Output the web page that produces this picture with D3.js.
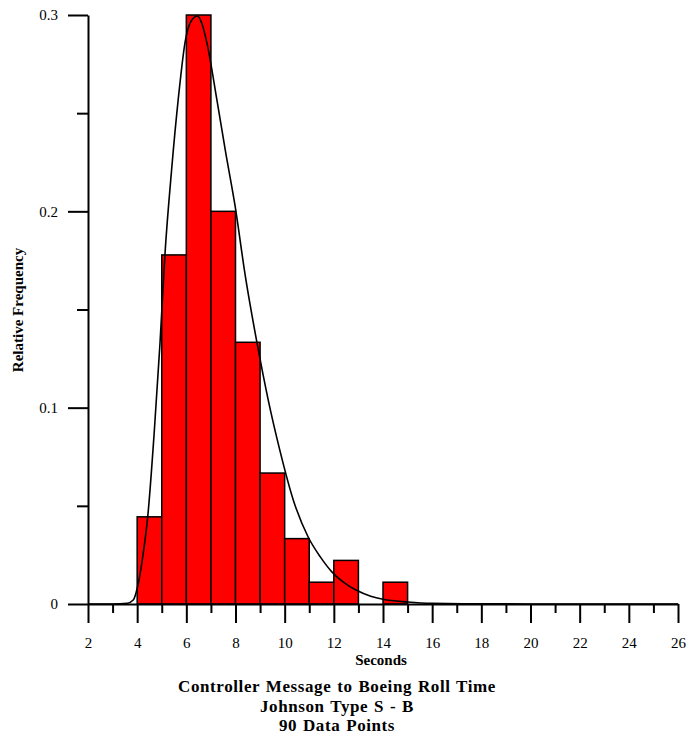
<!DOCTYPE html>
<html>
<head>
<meta charset="utf-8">
<title>Controller Message to Boeing Roll Time</title>
<script src="https://cdn.jsdelivr.net/npm/d3@7"></script>
<style>
  body { margin: 0; background: #fff; }
  svg text { font-family: "Liberation Serif", "Times New Roman", serif; fill: #000; }
  .axis path, .axis line { stroke: #000; stroke-width: 2px; }
  .axis text { font-size: 15px; }
  .bar { fill: #ff0000; stroke: #000; stroke-width: 1.5px; }
  .fit { fill: none; stroke: #000; stroke-width: 1.6px; }
</style>
</head>
<body>
<div id="chart"></div>
<script>
// histogram bins (1 second wide) and relative frequencies, 90 points
var binStart = [4, 5, 6, 7, 8, 9, 10, 11, 12, 13, 14];
var relFreq = [0.0444, 0.1778, 0.3, 0.2, 0.1333, 0.0667, 0.0333, 0.0111, 0.0222, 0, 0.0111];

// fitted Johnson SB curve
var curveX = [2, 3, 3.6, 3.84, 4.05, 4.25, 4.43, 4.7, 4.93, 5.13, 5.4, 5.67, 5.96, 6.2, 6.45, 6.65, 6.85, 7.24, 7.6, 7.98, 8.4, 8.86, 9.33, 9.81, 10.35, 10.96, 11.45, 11.91, 12.4, 12.92, 13.5, 14, 15, 16, 18, 20, 26];
var curveY = [0, 0, 0.0004, 0.002, 0.0107, 0.026, 0.0445, 0.0886, 0.133, 0.178, 0.221, 0.257, 0.287, 0.297, 0.2995, 0.295, 0.285, 0.257, 0.23, 0.203, 0.167, 0.134, 0.104, 0.078, 0.053, 0.034, 0.024, 0.0165, 0.011, 0.007, 0.004, 0.0024, 0.001, 0.0003, 0.0001, 0, 0];

var xMajor = [2, 4, 6, 8, 10, 12, 14, 16, 18, 20, 22, 24, 26];
var xMinor = [3, 5, 7, 9, 11, 13, 15, 17, 19, 21, 23, 25];
var yMajor = [0, 0.1, 0.2, 0.3];
var yMinor = [0.05, 0.15, 0.25];

var titleLines = ["Controller Message to Boeing Roll Time", "Johnson Type S - B", "90 Data Points"];

var width = 687, height = 744;
var svg = d3.select("#chart").append("svg")
    .attr("width", width)
    .attr("height", height);

var x = d3.scaleLinear().domain([2, 26]).range([88, 678]);
var y = d3.scaleLinear().domain([0, 0.3]).range([604, 15]);

// bars
svg.selectAll(".bar")
    .data(binStart.map(function(d, i) { return {x0: d, v: relFreq[i]}; })
      .filter(function(d) { return d.v > 0; }))
  .enter().append("rect")
    .attr("class", "bar")
    .attr("x", function(d) { return x(d.x0); })
    .attr("width", function(d) { return x(d.x0 + 1) - x(d.x0); })
    .attr("y", function(d) { return y(d.v); })
    .attr("height", function(d) { return y(0) - y(d.v); });

// fitted curve
var line = d3.line()
    .x(function(d) { return x(d[0]); })
    .y(function(d) { return y(d[1]); })
    .curve(d3.curveMonotoneX);
svg.append("path")
    .attr("class", "fit")
    .attr("d", line(curveX.map(function(d, i) { return [d, curveY[i]]; })));

// x axis
svg.append("g")
    .attr("class", "axis")
    .attr("transform", "translate(0," + y(0) + ")")
    .call(d3.axisBottom(x).tickValues(xMajor).tickSize(19).tickSizeOuter(0)
      .tickPadding(14).tickFormat(d3.format("d")));
svg.append("g")
    .attr("class", "axis")
    .attr("transform", "translate(0," + y(0) + ")")
    .call(d3.axisBottom(x).tickValues(xMinor).tickSize(9).tickFormat(""))
    .select(".domain").remove();

// y axis
svg.append("g")
    .attr("class", "axis")
    .attr("transform", "translate(" + x(2) + ",0)")
    .call(d3.axisLeft(y).tickValues(yMajor).tickSize(20).tickSizeOuter(0)
      .tickPadding(10).tickFormat(function(d) { return d === 0 ? "0" : d3.format(".1f")(d); }));
svg.append("g")
    .attr("class", "axis")
    .attr("transform", "translate(" + x(2) + ",0)")
    .call(d3.axisLeft(y).tickValues(yMinor).tickSize(11).tickFormat(""))
    .select(".domain").remove();

// axis titles
svg.append("text")
    .attr("x", 381).attr("y", 665)
    .attr("text-anchor", "middle")
    .style("font-size", "15px").style("font-weight", "bold")
    .text("Seconds");
svg.append("text")
    .attr("transform", "translate(23,310) rotate(-90)")
    .attr("text-anchor", "middle")
    .style("font-size", "15px").style("font-weight", "bold")
    .text("Relative Frequency");

svg.selectAll(".title")
    .data(titleLines)
  .enter().append("text")
    .attr("class", "title")
    .attr("x", 337)
    .attr("y", function(d, i) { return 692 + i * 19.5; })
    .attr("text-anchor", "middle")
    .style("font-size", "17px").style("font-weight", "bold")
    .style("letter-spacing", "0.6px")
    .style("word-spacing", "1px")
    .text(function(d) { return d; });
</script>
</body>
</html>
